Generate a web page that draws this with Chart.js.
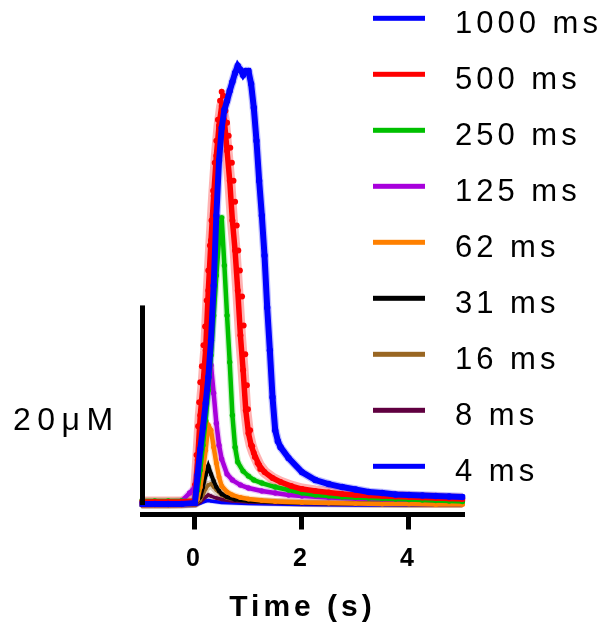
<!DOCTYPE html>
<html><head><meta charset="utf-8">
<script src="https://cdn.jsdelivr.net/npm/chart.js@4.4.0/dist/chart.umd.min.js"></script>
<style>html,body{margin:0;padding:0;background:#fff;overflow:hidden}#wrap{width:604px;height:629px;position:relative}</style>
</head><body><div id="wrap"><canvas id="c" width="604" height="629"></canvas></div>
<script>
// ---------- data ----------
const seriesLabels = ['1000 ms','500 ms','250 ms','125 ms','62 ms','31 ms','16 ms','8 ms','4 ms'];
const xTicks = [0, 2, 4];
const xTitle = 'Time (s)';
const scaleBarValue = 20;
const scaleBarLabel = '20\u03bcM';

const t1000 = [-1,-0.75,-0.5,-0.25,0,0.05,0.1,0.15,0.2,0.25,0.3,0.35,0.4,0.45,0.5,0.55,0.6,0.65,0.7,0.75,0.8,0.85,0.9,0.95,1.0,1.05,1.1,1.15,1.2,1.25,1.3,1.35,1.4,1.45,1.5,1.55,1.6,1.75,2.0,2.25,2.5,2.75,3.0,3.25,3.5,3.75,4.0,4.25,4.5,4.75,5.0];
const v1000 = [0.1,0.1,0.1,0.1,0.2,3.0,5.6,7.8,10.2,12.8,16.5,22.0,29.0,34.5,37.8,39.6,40.5,41.5,42.4,43.3,44.0,43.6,43.1,43.5,43.5,42.2,39.8,36.5,32.5,29.0,25.0,19.8,15.5,10.8,7.5,6.4,5.8,4.7,3.3,2.5,2.1,1.8,1.55,1.3,1.2,1.05,1.0,0.95,0.9,0.85,0.8];

const t500 = [-1,-0.75,-0.5,-0.25,0,0.05,0.1,0.15,0.2,0.25,0.3,0.35,0.4,0.45,0.5,0.55,0.6,0.65,0.7,0.75,0.8,0.85,0.9,0.95,1.0,1.05,1.1,1.2,1.3,1.45,1.6,1.8,2.0,2.25,2.5,2.75,3.0,3.25,3.5,3.75,4.0,4.25,4.5,4.75,5.0];
const v500 = [0.3,0.3,0.3,0.3,0.4,4.5,9.0,12.0,15.5,21.5,26.5,31.0,35.0,38.0,40.0,38.5,35.5,32.5,28.5,25.5,21.5,17.0,13.5,9.5,7.2,6.0,5.2,4.0,3.3,2.7,2.3,1.9,1.6,1.4,1.25,1.1,1.0,0.95,0.9,0.85,0.8,0.75,0.7,0.65,0.6];

const tDots500 = [0.0,0.03,0.06,0.08,0.1,0.13,0.16,0.19,0.22,0.25,0.28,0.31,0.34,0.37,0.4,0.43,0.47,0.5,0.53,0.57,0.6,0.63,0.66,0.69,0.72,0.75,0.78,0.81,0.84,0.88,0.91,0.94,0.97,0.99,1.03,1.07,1.12,1.17,1.22];
const vDots500 = [2.0,5.0,7.9,10.3,12.3,13.9,16.0,17.9,20.5,23.5,26.0,28.5,31.5,34.3,36.5,38.6,40.5,41.4,41.0,39.5,38.3,37.0,35.8,34.3,32.5,30.4,28.0,25.5,23.5,20.9,18.0,15.1,12.0,9.6,7.5,5.9,4.8,4.2,3.6];

const t250 = [-1,-0.75,-0.5,-0.25,0,0.05,0.1,0.15,0.2,0.25,0.3,0.35,0.4,0.45,0.5,0.55,0.6,0.65,0.7,0.75,0.8,0.9,1.0,1.1,1.25,1.5,1.75,2.0,2.25,2.5,2.75,3.0,3.25,3.5,3.75,4.0,4.25,4.5,4.75,5.0];
const v250 = [0.4,0.4,0.4,0.4,0.4,1.5,3.5,6.0,8.5,11.5,15.0,19.0,23.0,26.5,28.8,24.0,19.0,14.3,9.0,5.8,4.3,3.4,2.9,2.5,2.2,1.8,1.5,1.2,1.0,0.9,0.8,0.75,0.7,0.65,0.6,0.55,0.5,0.45,0.4,0.35];

const t125 = [-1,-0.75,-0.5,-0.25,-0.1,0,0.05,0.1,0.15,0.2,0.25,0.3,0.35,0.4,0.45,0.5,0.6,0.7,0.85,1.0,1.25,1.5,1.75,2.0,2.5,3.0,3.5,4.0,4.5,5.0];
const v125 = [0.3,0.3,0.3,0.4,1.2,1.8,3.5,6.0,8.5,11.0,12.8,14.0,11.2,8.2,6.0,4.6,3.1,2.5,2.0,1.7,1.4,1.2,1.0,0.9,0.75,0.65,0.6,0.55,0.5,0.45];

const t62 = [-1,-0.75,-0.5,-0.25,0,0.05,0.1,0.15,0.2,0.25,0.3,0.35,0.4,0.45,0.5,0.6,0.7,0.85,1.0,1.25,1.5,2.0,2.5,3.0,3.5,4.0,4.5,5.0];
const v62 = [0.0,0.0,0.0,0.0,0.1,0.6,1.8,3.5,5.5,8.0,7.5,5.8,4.2,2.8,1.9,1.3,1.0,0.75,0.6,0.45,0.35,0.25,0.2,0.15,0.1,0.1,0.05,0.05];

const t31 = [-1,-0.5,0,0.1,0.15,0.2,0.25,0.3,0.35,0.4,0.45,0.5,0.6,0.75,1.0,1.5,2.0,3.0,4.0,5.0];
const v31 = [0.0,0.0,0.1,0.8,1.8,3.0,3.9,3.1,2.4,1.8,1.4,1.1,0.8,0.55,0.4,0.3,0.2,0.15,0.1,0.1];

const t16 = [-1,-0.5,0,0.1,0.15,0.2,0.25,0.3,0.35,0.4,0.5,0.6,0.8,1.0,1.5,2.0,3.0,4.0,5.0];
const v16 = [0.0,0.0,0.1,0.5,1.0,1.6,2.0,2.1,1.8,1.5,1.0,0.7,0.5,0.4,0.3,0.2,0.15,0.1,0.1];

const t8 = [-1,-0.5,0,0.1,0.2,0.25,0.3,0.4,0.5,0.7,1.0,2.0,3.0,4.0,5.0];
const v8 = [0.0,0.0,0.0,0.3,0.8,1.0,0.9,0.7,0.55,0.4,0.3,0.15,0.1,0.05,0.05];

const t4 = [-1,-0.5,0,0.1,0.2,0.25,0.3,0.5,1.0,2.0,3.0,4.0,5.0];
const v4 = [0.0,0.0,0.0,0.2,0.4,0.45,0.4,0.25,0.15,0.05,0.0,0.0,0.0];

// ---------- styles ----------
const colors = ['#0000FF','#FF0000','#00C000','#A800DC','#FF8000','#000000','#996622','#600040','#0000FF'];
const lineWidths = [6, 5.5, 4.5, 4.5, 4.5, 4, 3.5, 3.5, 3.5];
const haloWidths = [8.5, 11, 7, 7, 7, 6, 8, 6, 5];
const haloAlpha = [0.25, 0.3, 0.22, 0.22, 0.22, 0.2, 0.3, 0.2, 0.2];
const pointRadii = [3.2, 3, 2.7, 2.7, 2.5, 2.2, 2, 1.8, 1.5];
const FONT = "'Liberation Sans', Arial, Helvetica, sans-serif";

const times = [t1000, t500, t250, t125, t62, t31, t16, t8, t4];
const vals  = [v1000, v500, v250, v125, v62, v31, v16, v8, v4];

function pts(t, v) { return t.map((x, i) => ({x: x, y: v[i]})); }
function rgba(hex, a) {
  const n = parseInt(hex.slice(1), 16);
  return 'rgba(' + ((n >> 16) & 255) + ',' + ((n >> 8) & 255) + ',' + (n & 255) + ',' + a + ')';
}

const datasets = [];
seriesLabels.forEach((lab, i) => {
  datasets.push({
    label: lab, data: pts(times[i], vals[i]), borderColor: colors[i], backgroundColor: colors[i],
    borderWidth: lineWidths[i], pointRadius: pointRadii[i], pointBorderWidth: 0,
    pointBackgroundColor: colors[i], tension: 0, order: 0, clip: 3
  });
});
seriesLabels.forEach((lab, i) => {
  datasets.push({
    label: lab + ' band', data: pts(times[i], vals[i]), borderColor: rgba(colors[i], haloAlpha[i]),
    borderWidth: haloWidths[i], pointRadius: 0, tension: 0, order: 2, clip: 3,
    borderJoinStyle: 'round'
  });
});
datasets.push({
  label: '500 ms data', data: pts(tDots500, vDots500), showLine: false,
  pointRadius: 3, pointBorderWidth: 0, pointBackgroundColor: colors[1],
  borderColor: colors[1], order: 1, clip: 6
});

Chart.defaults.font.family = FONT;
Chart.defaults.color = '#000';

const spacingPlugin = {
  id: 'spacing',
  beforeLayout(chart) { chart.ctx.letterSpacing = '4px'; },
  beforeDraw(chart) { chart.ctx.letterSpacing = '4px'; }
};

const overlayPlugin = {
  id: 'overlay',
  afterDraw(chart) {
    const ctx = chart.ctx;
    const ys = chart.scales.y;
    const area = chart.chartArea;
    // scale bar
    const y0 = ys.getPixelForValue(0);
    const y1 = ys.getPixelForValue(scaleBarValue);
    ctx.save();
    ctx.fillStyle = '#000';
    ctx.fillRect(area.left - 2.5, y1, 5, y0 - y1);
    ctx.letterSpacing = '6.5px';
    ctx.font = '32px ' + FONT;
    ctx.textAlign = 'left';
    ctx.textBaseline = 'alphabetic';
    ctx.fillText(scaleBarLabel, 13, (y0 + y1) / 2 + 25);
    ctx.restore();
    // legend
    ctx.save();
    ctx.font = '31px ' + FONT;
    ctx.letterSpacing = '4px';
    ctx.textAlign = 'left';
    ctx.textBaseline = 'alphabetic';
    seriesLabels.forEach((lab, i) => {
      const cy = 18.3 + 56 * i;
      ctx.fillStyle = colors[i];
      ctx.fillRect(373, cy - 2.5, 52, 5);
      ctx.fillStyle = '#000';
      ctx.fillText(lab, 455, cy + 15);
    });
    ctx.restore();
  }
};

new Chart(document.getElementById('c'), {
  type: 'line',
  data: { datasets: datasets },
  plugins: [spacingPlugin, overlayPlugin],
  options: {
    responsive: false, animation: false, devicePixelRatio: 1,
    layout: { padding: { left: 142.5, right: 141.5, top: 15.5, bottom: 3.5 } },
    plugins: { legend: { display: false }, tooltip: { enabled: false }, title: { display: false } },
    scales: {
      x: {
        type: 'linear', position: 'bottom', min: -0.98, max: 5,
        afterBuildTicks(s) { s.ticks = xTicks.map(v => ({ value: v })); },
        ticks: { font: { size: 25, weight: 'bold' }, color: '#000', padding: 14.5, maxRotation: 0, autoSkip: false },
        grid: { display: true, drawOnChartArea: false, drawTicks: true, tickLength: 15, tickWidth: 5, tickColor: '#000', lineWidth: 5, color: '#000' },
        border: { display: true, width: 5, color: '#000' },
        title: { display: true, text: xTitle, font: { size: 30, weight: 'bold' }, color: '#000', padding: { top: 1, bottom: 0 } }
      },
      y: { type: 'linear', display: false, min: -0.95, max: 49.05 }
    }
  }
});
</script></body></html>
